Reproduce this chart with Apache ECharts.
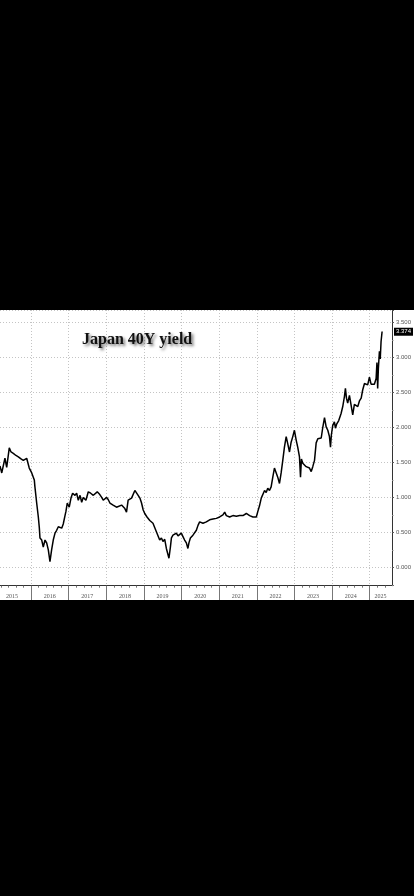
<!DOCTYPE html>
<html><head><meta charset="utf-8">
<script src="https://cdn.jsdelivr.net/npm/echarts@6/dist/echarts.min.js"></script>
<style>
html,body{margin:0;padding:0;background:#000;width:414px;height:896px;overflow:hidden}
#chart{position:absolute;left:0;top:310px;width:414px;height:290px;background:#fff}
</style></head><body><div id="chart"></div>
<script>
const chartTitle = 'Japan 40Y yield';

const dates = [
'2015-03-06','2015-03-23','2015-04-23','2015-05-10','2015-06-04','2015-06-21','2015-07-13','2015-08-08','2015-08-31','2015-09-26','2015-10-18','2015-11-20','2015-12-15',
'2016-01-08','2016-02-02','2016-02-08','2016-02-25','2016-03-12','2016-03-22','2016-03-28','2016-04-14','2016-04-29','2016-05-16','2016-06-01','2016-06-17','2016-07-03','2016-07-19','2016-08-04','2016-08-21','2016-09-06','2016-09-22','2016-10-08','2016-10-25','2016-11-09','2016-11-26','2016-12-05','2016-12-18',
'2017-01-06','2017-01-23','2017-02-08','2017-03-03','2017-03-19','2017-04-04','2017-04-21','2017-05-07','2017-05-22','2017-06-17','2017-07-10','2017-08-02','2017-08-28','2017-09-13','2017-10-05','2017-10-25','2017-11-17','2017-12-02',
'2018-01-04','2018-01-19','2018-02-05','2018-03-08','2018-04-10','2018-04-26','2018-05-29','2018-06-30','2018-07-16','2018-08-01','2018-09-03','2018-09-18','2018-10-05','2018-10-21','2018-11-06','2018-11-23','2018-12-09','2018-12-25',
'2019-01-09','2019-01-31','2019-02-27','2019-03-30','2019-05-02','2019-06-03','2019-06-20','2019-07-05','2019-07-22','2019-08-07','2019-08-23','2019-09-01','2019-09-15','2019-09-25','2019-10-10','2019-10-27','2019-11-12','2019-11-28','2019-12-14','2019-12-30',
'2020-01-15','2020-01-31','2020-02-17','2020-03-03','2020-03-13','2020-03-27','2020-04-21','2020-05-24','2020-06-09','2020-06-25','2020-07-27','2020-08-29','2020-09-30','2020-11-01','2020-12-04',
'2021-01-05','2021-02-06','2021-02-23','2021-03-11','2021-04-12','2021-05-14','2021-06-16','2021-07-18','2021-08-19','2021-09-21','2021-10-23','2021-11-24','2021-12-27',
'2022-01-11','2022-01-27','2022-02-13','2022-02-28','2022-03-17','2022-04-02','2022-04-17','2022-05-04','2022-05-20','2022-06-05','2022-06-21','2022-07-08','2022-07-23','2022-08-09','2022-08-25','2022-09-10','2022-09-26','2022-10-13','2022-10-28','2022-11-14','2022-11-30','2022-12-16',
'2023-01-01','2023-01-18','2023-02-02','2023-02-19','2023-03-01','2023-03-10','2023-03-23','2023-04-25','2023-05-27','2023-06-13','2023-06-28','2023-07-15','2023-07-31','2023-08-16','2023-09-18','2023-10-03','2023-10-20','2023-11-05','2023-11-21','2023-12-07','2023-12-17','2023-12-26',
'2024-01-08','2024-01-24','2024-02-03','2024-02-15','2024-03-06','2024-03-29','2024-04-14','2024-04-30','2024-05-10','2024-05-20','2024-06-01','2024-06-18','2024-07-05','2024-07-20','2024-07-27','2024-08-05','2024-08-22','2024-09-07','2024-09-23','2024-10-10','2024-10-25','2024-11-11','2024-11-27','2024-12-12','2024-12-29',
'2025-01-14','2025-01-29','2025-02-15','2025-03-04','2025-03-12','2025-03-19','2025-03-26','2025-04-05','2025-04-13','2025-04-21','2025-05-01'
];

const yields = [
1.45,1.35,1.56,1.43,1.71,1.65,1.63,1.60,1.58,1.55,1.53,1.56,1.42,
1.35,1.25,1.15,0.92,0.72,0.56,0.42,0.39,0.29,0.39,0.35,0.25,0.08,0.25,0.39,0.49,0.53,0.58,0.57,0.56,0.62,0.74,0.80,0.92,
0.86,0.99,1.06,1.03,1.06,0.96,1.03,0.93,1.00,0.96,1.08,1.06,1.03,1.05,1.08,1.05,1.00,0.96,
1.00,0.97,0.92,0.89,0.86,0.84,0.89,0.84,0.79,0.96,0.99,1.00,1.10,1.08,1.03,0.99,0.92,0.82,
0.77,0.72,0.67,0.63,0.51,0.39,0.42,0.37,0.40,0.27,0.18,0.13,0.29,0.42,0.46,0.44,0.49,0.45,0.47,0.49,
0.44,0.39,0.35,0.27,0.35,0.42,0.46,0.53,0.60,0.65,0.63,0.65,0.68,0.69,0.70,
0.72,0.75,0.79,0.74,0.72,0.74,0.73,0.74,0.74,0.77,0.74,0.72,0.72,
0.80,0.88,0.99,0.97,1.10,1.07,1.13,1.10,1.15,1.29,1.42,1.40,1.29,1.20,1.35,1.53,1.72,1.87,1.77,1.65,1.79,1.87,
1.96,1.82,1.72,1.58,1.29,1.55,1.49,1.44,1.42,1.37,1.44,1.53,1.78,1.84,1.85,2.00,2.14,2.01,1.96,1.87,1.72,1.90,
2.03,2.08,1.99,2.05,2.10,2.20,2.30,2.44,2.56,2.42,2.35,2.46,2.45,2.18,2.16,2.33,2.34,2.30,2.38,2.42,2.54,2.63,2.64,2.61,2.72,
2.62,2.63,2.62,2.70,2.93,2.56,2.85,3.09,2.98,3.23,3.374
];

const years = ['2015','2016','2017','2018','2019','2020','2021','2022','2023','2024','2025'];
const yearLabelDates = ['2015-07-01','2016-07-01','2017-07-01','2018-07-01','2019-07-01','2020-07-01','2021-07-01','2022-07-01','2023-07-01','2024-07-01','2025-04-15'];
const yearStartDates = ['2016-01-01','2017-01-01','2018-01-01','2019-01-01','2020-01-01','2021-01-01','2022-01-01','2023-01-01','2024-01-01','2025-01-01'];
const xMin = '2015-03-06', xMax = '2025-08-05';

const ts = d => Date.parse(d + 'T00:00:00Z');
const seriesData = dates.map((d, i) => [ts(d), yields[i]]);
const last = yields[yields.length - 1];

const tMin = ts(xMin), tMax = ts(xMax);
const minorTicks = [];
for (let y = 2014; y <= 2025; y++) {
  const a = ts(y + '-01-01'), b = ts((y + 1) + '-01-01');
  for (let k = 1; k < 5; k++) {
    const t = a + (b - a) * k / 5;
    if (t > tMin && t < tMax) minorTicks.push(t);
  }
}
const labelTs = yearLabelDates.map(ts);
const yearTs = yearStartDates.map(ts);

const grid = '#c4c4c4';
const chart = echarts.init(document.getElementById('chart'), null, {renderer: 'canvas'});
chart.setOption({
  animation: false,
  backgroundColor: '#fff',
  title: {
    text: chartTitle, left: 77, top: 17,
    textStyle: {
      fontFamily: 'Liberation Serif', fontWeight: 'bold', fontSize: 16, color: '#111',
      textShadowColor: 'rgba(0,0,0,0.55)', textShadowBlur: 3, textShadowOffsetX: 2, textShadowOffsetY: 2
    }
  },
  grid: {left: 0, right: 21.3, top: 0, bottom: 14.3, containLabel: false},
  xAxis: [{
    type: 'value', min: tMin, max: tMax, position: 'bottom',
    axisLine: {show: true, onZero: false, lineStyle: {color: '#333', width: 1}},
    axisTick: {show: true, length: 15, lineStyle: {color: '#777', width: 1}, customValues: yearTs},
    axisLabel: {
      show: true, customValues: labelTs, margin: 8, fontSize: 6, color: '#555',
      fontFamily: 'Liberation Serif',
      formatter: v => { const i = labelTs.indexOf(v); return i >= 0 ? years[i] : ''; }
    },
    splitLine: {show: true, lineStyle: {color: grid, type: [1, 2], width: 1}}
  }, {
    type: 'value', min: tMin, max: tMax, position: 'bottom',
    axisLine: {show: false, onZero: false},
    axisTick: {show: true, length: 2, lineStyle: {color: '#777', width: 1}, customValues: minorTicks},
    axisLabel: {show: false},
    splitLine: {show: false}
  }],
  yAxis: {
    type: 'value', position: 'right', min: -0.263, max: 3.681,
    splitNumber: 8, minInterval: 0.5, maxInterval: 0.5,
    axisLine: {show: true, onZero: false, lineStyle: {color: '#333', width: 1}},
    axisTick: {show: true, length: 2, lineStyle: {color: '#555'}},
    minorTick: {show: true, splitNumber: 2, length: 1.5, lineStyle: {color: '#888'}},
    axisLabel: {
      show: true, margin: 4, fontSize: 6, color: '#555', fontFamily: 'Liberation Sans',
      showMinLabel: false, showMaxLabel: false,
      formatter: v => (Math.abs(v * 2 - Math.round(v * 2)) < 1e-6) ? v.toFixed(3) : ''
    },
    splitLine: {show: true, lineStyle: {color: grid, type: [1, 2], width: 1}}
  },
  series: [{
    type: 'line', data: seriesData, xAxisIndex: 0,
    showSymbol: false, symbol: 'none',
    lineStyle: {color: '#000', width: 1.5},
    markLine: {
      silent: true, symbol: 'none', animation: false,
      lineStyle: {color: 'rgba(0,0,0,0)', width: 0, type: 'solid'},
      label: {
        show: true, position: 'end', distance: 2, formatter: last.toFixed(3),
        backgroundColor: '#000', color: '#fff', fontSize: 6, padding: [1, 2],
        fontFamily: 'Liberation Sans', opacity: 1
      },
      data: [{yAxis: last}]
    }
  }]
});
</script></body></html>
